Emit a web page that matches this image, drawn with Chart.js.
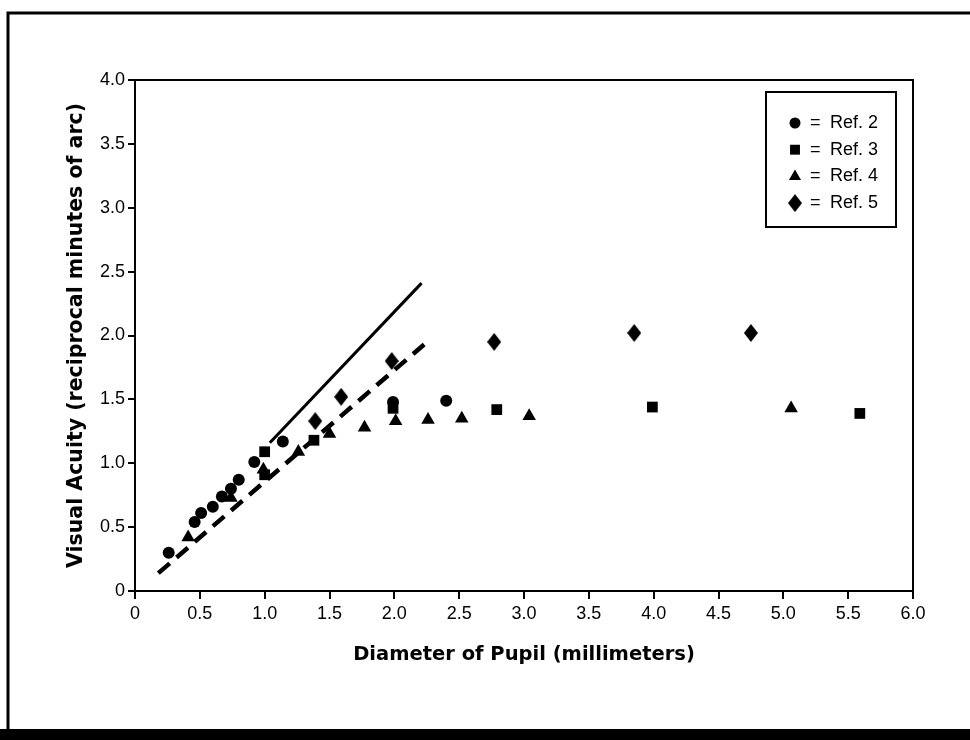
<!DOCTYPE html>
<html>
<head>
<meta charset="utf-8">
<script src="https://cdn.jsdelivr.net/npm/chart.js@4.4.0/dist/chart.umd.min.js"></script>
<style>
  html, body { margin: 0; padding: 0; background: #fff; }
  canvas { display: block; }
</style>
</head>
<body>
<canvas id="acuity" width="970" height="740"></canvas>
<script>
// values
var ref2X = [0.26, 0.46, 0.51, 0.60, 0.67, 0.74, 0.80, 0.92, 1.14, 1.99, 2.40];
var ref2Y = [0.30, 0.54, 0.61, 0.66, 0.74, 0.80, 0.87, 1.01, 1.17, 1.48, 1.49];

var ref3X = [1.00, 1.00, 1.38, 1.99, 2.79, 3.99, 5.59];
var ref3Y = [0.91, 1.09, 1.18, 1.43, 1.42, 1.44, 1.39];

var ref4X = [0.41, 0.74, 0.99, 1.26, 1.50, 1.77, 2.01, 2.26, 2.52, 3.04, 5.06];
var ref4Y = [0.42, 0.73, 0.95, 1.09, 1.23, 1.28, 1.33, 1.34, 1.35, 1.37, 1.43];

var ref5X = [1.39, 1.59, 1.98, 2.77, 3.85, 4.75];
var ref5Y = [1.33, 1.52, 1.80, 1.95, 2.02, 2.02];

// the two drawn lines (end points)
var solidX = [1.04, 2.21];
var solidY = [1.16, 2.41];
var dashX = [0.18, 2.23];
var dashY = [0.14, 1.93];

var xTicks = [0, 0.5, 1, 1.5, 2, 2.5, 3, 3.5, 4, 4.5, 5, 5.5, 6];
var yTicks = [0, 0.5, 1, 1.5, 2, 2.5, 3, 3.5, 4];

function pts(xs, ys) {
  return xs.map(function (x, i) { return { x: x, y: ys[i] }; });
}

function diamondMark(w, h) {
  var c = document.createElement("canvas");
  c.width = w;
  c.height = h;
  var g = c.getContext("2d");
  g.fillStyle = "#000";
  g.beginPath();
  g.moveTo(w / 2, 0);
  g.lineTo(w, h / 2);
  g.lineTo(w / 2, h);
  g.lineTo(0, h / 2);
  g.closePath();
  g.fill();
  return c;
}

function tickText(v) {
  return v === 0 ? "0" : v.toFixed(1);
}

var tickFont = { family: "'Liberation Sans', Arial, sans-serif", size: 18 };
var titleFont = { family: "'DejaVu Sans', sans-serif", size: 19.5, weight: "bold" };
var yTitleFont = { family: "'DejaVu Sans', sans-serif", size: 20.5, weight: "bold" };

// page frame + box around the plot
var framePlugin = {
  id: "frame",
  afterDraw: function (chart) {
    var ctx = chart.ctx, a = chart.chartArea;
    ctx.save();
    ctx.strokeStyle = "#000";
    ctx.lineWidth = 2;
    ctx.beginPath();
    ctx.moveTo(a.left, a.top);
    ctx.lineTo(a.right, a.top);
    ctx.lineTo(a.right, a.bottom);
    ctx.stroke();

    ctx.lineWidth = 3;
    ctx.beginPath();
    ctx.moveTo(8, 740);
    ctx.lineTo(8, 13);
    ctx.lineTo(970, 13);
    ctx.stroke();
    ctx.fillStyle = "#000";
    ctx.fillRect(0, 729, 970, 11);
    ctx.restore();
  }
};

// boxed legend inside the plot, top right
var boxLegend = {
  id: "boxLegend",
  afterDraw: function (chart, args, opts) {
    var ctx = chart.ctx, a = chart.chartArea;
    var bx = a.right - opts.offsetRight - opts.width;
    var by = a.top + opts.offsetTop;
    ctx.save();
    ctx.strokeStyle = "#000";
    ctx.lineWidth = 2;
    ctx.strokeRect(bx, by, opts.width, opts.height);
    ctx.fillStyle = "#000";
    ctx.font = opts.fontSize + "px " + tickFont.family;
    ctx.textBaseline = "middle";
    var row = 0;
    chart.data.datasets.forEach(function (ds) {
      if (ds.showLine) return;
      var y = by + opts.firstRow + row * opts.rowGap;
      Chart.helpers.drawPoint(ctx, {
        pointStyle: ds.pointStyle,
        radius: ds.legendRadius,
        rotation: 0,
        borderWidth: 0
      }, bx + 29, y);
      ctx.fillStyle = "#000";
      ctx.fillText("=", bx + 44, y);
      ctx.fillText(ds.label, bx + 64, y);
      row++;
    });
    ctx.restore();
  }
};

new Chart(document.getElementById("acuity"), {
  type: "scatter",
  data: {
    datasets: [
      {
        label: "Ref. 2",
        data: pts(ref2X, ref2Y),
        pointStyle: "circle",
        pointRadius: 6,
        legendRadius: 5.5,
        backgroundColor: "#000",
        borderWidth: 0
      },
      {
        label: "Ref. 3",
        data: pts(ref3X, ref3Y),
        pointStyle: "rect",
        pointRadius: 7.6,
        legendRadius: 7,
        backgroundColor: "#000",
        borderWidth: 0
      },
      {
        label: "Ref. 4",
        data: pts(ref4X, ref4Y),
        pointStyle: "triangle",
        pointRadius: 7.8,
        legendRadius: 7,
        backgroundColor: "#000",
        borderWidth: 0
      },
      {
        label: "Ref. 5",
        data: pts(ref5X, ref5Y),
        pointStyle: diamondMark(14, 18),
        pointRadius: 8,
        legendRadius: 8,
        backgroundColor: "#000",
        borderWidth: 0
      },
      {
        label: "solid",
        data: pts(solidX, solidY),
        showLine: true,
        borderColor: "#000",
        borderWidth: 3,
        pointRadius: 0
      },
      {
        label: "dashed",
        data: pts(dashX, dashY),
        showLine: true,
        borderColor: "#000",
        borderWidth: 4.5,
        borderDash: [15, 9],
        pointRadius: 0
      }
    ]
  },
  options: {
    responsive: false,
    animation: false,
    layout: { padding: { left: 0, right: 57, top: 80, bottom: 0 } },
    plugins: {
      legend: { display: false },
      tooltip: { enabled: false },
      boxLegend: {
        width: 130,
        height: 135,
        offsetRight: 17,
        offsetTop: 12,
        firstRow: 31,
        rowGap: 26.7,
        fontSize: 18
      }
    },
    scales: {
      x: {
        type: "linear",
        min: 0,
        max: 6,
        afterFit: function (s) { s.height = 149; },
        afterBuildTicks: function (s) { s.ticks = xTicks.map(function (v) { return { value: v }; }); },
        ticks: { color: "#000", font: tickFont, padding: 4, maxRotation: 0, autoSkip: false, callback: tickText },
        grid: { drawOnChartArea: false, drawTicks: true, tickLength: 8, color: "#000", lineWidth: 2 },
        border: { display: true, color: "#000", width: 2 },
        title: {
          display: true,
          text: "Diameter of Pupil (millimeters)",
          color: "#000",
          font: titleFont,
          padding: { top: 0, bottom: 73 }
        }
      },
      y: {
        type: "linear",
        min: 0,
        max: 4,
        afterFit: function (s) { s.width = 135; },
        afterBuildTicks: function (s) { s.ticks = yTicks.map(function (v) { return { value: v }; }); },
        ticks: { color: "#000", font: tickFont, padding: 3, callback: tickText },
        grid: { drawOnChartArea: false, drawTicks: true, tickLength: 7, color: "#000", lineWidth: 2 },
        border: { display: true, color: "#000", width: 2 },
        title: {
          display: true,
          text: "Visual Acuity (reciprocal minutes of arc)",
          color: "#000",
          font: yTitleFont,
          padding: { top: 64, bottom: 0 }
        }
      }
    }
  },
  plugins: [framePlugin, boxLegend]
});
</script>
</body>
</html>
